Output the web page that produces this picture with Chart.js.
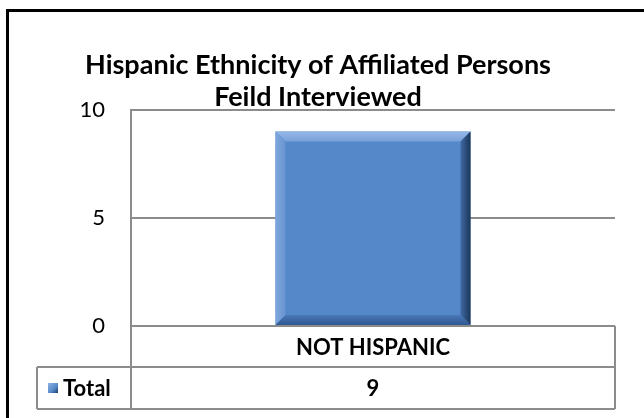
<!DOCTYPE html>
<html>
<head>
<meta charset="utf-8">
<script src="https://cdn.jsdelivr.net/npm/chart.js@4/dist/chart.umd.min.js"></script>
<style>
  html, body { margin: 0; padding: 0; background: #fff; }
  #wrap { width: 644px; height: 418px; }
  canvas { display: block; }
</style>
</head>
<body>
<div id="wrap"><canvas id="c" width="644" height="418" style="width:644px;height:418px"></canvas></div>
<script>
// Chart text and data
const titleLines = ['Hispanic Ethnicity of Affiliated Persons', 'Feild Interviewed'];
const categories = ['NOT HISPANIC'];
const seriesName = 'Total';
const totals = [9];
const yTicks = [0, 5, 10];

const FONT = 'Lato, "Open Sans", sans-serif';
const GRID = '#8c8c8c';
const FACE = '#5588c8';

// White page, black frame (open on right/bottom) and the two-line title
const frameAndTitle = {
  id: 'frameAndTitle',
  beforeDraw(chart) {
    const ctx = chart.ctx;
    ctx.save();
    ctx.fillStyle = '#fff';
    ctx.fillRect(0, 0, chart.width, chart.height);
    ctx.fillStyle = '#000';
    ctx.fillRect(6, 9, chart.width - 6, 3);
    ctx.fillRect(6, 9, 3, chart.height - 9);
    ctx.font = 'bold 27px ' + FONT;
    ctx.textAlign = 'center';
    ctx.textBaseline = 'alphabetic';
    ctx.fillText(titleLines[0], 318, 74);
    ctx.fillText(titleLines[1], 318, 106);
    ctx.restore();
  }
};

function poly(ctx, pts, fill) {
  ctx.beginPath();
  ctx.moveTo(pts[0][0], pts[0][1]);
  for (let i = 1; i < pts.length; i++) ctx.lineTo(pts[i][0], pts[i][1]);
  ctx.closePath();
  ctx.fillStyle = fill;
  ctx.fill();
}

// Bevelled edges on each bar, placed from the bar elements themselves
const bevel = {
  id: 'bevel',
  afterDatasetsDraw(chart) {
    const ctx = chart.ctx;
    const meta = chart.getDatasetMeta(0);
    ctx.save();
    meta.data.forEach(bar => {
      const p = bar.getProps(['x', 'y', 'base', 'width'], true);
      const L = p.x - p.width / 2, R = p.x + p.width / 2, T = p.y, B = p.base;
      const b = 10;
      let g = ctx.createLinearGradient(0, T, 0, T + b);
      g.addColorStop(0, '#95b8e8');
      g.addColorStop(1, '#77a0da');
      poly(ctx, [[L, T], [R, T], [R - b, T + b], [L + b, T + b]], g);
      g = ctx.createLinearGradient(L, 0, L + b, 0);
      g.addColorStop(0, '#7ea7de');
      g.addColorStop(1, '#6894d0');
      poly(ctx, [[L, T], [L + b, T + b], [L + b, B - b], [L, B]], g);
      g = ctx.createLinearGradient(R - b, 0, R, 0);
      g.addColorStop(0, '#3f6aa5');
      g.addColorStop(1, '#1b3558');
      poly(ctx, [[R, T], [R, B], [R - b, B - b], [R - b, T + b]], g);
      g = ctx.createLinearGradient(0, B - b, 0, B);
      g.addColorStop(0, '#4a78b6');
      g.addColorStop(1, '#2f5891');
      poly(ctx, [[L, B], [L + b, B - b], [R - b, B - b], [R, B]], g);
    });
    ctx.restore();
  }
};

// Data table under the plot: category row, then legend key + values row
const dataTable = {
  id: 'dataTable',
  afterDraw(chart) {
    const ctx = chart.ctx;
    const area = chart.chartArea;
    const xs = chart.scales.x;
    const row1Top = area.bottom, row1Bot = area.bottom + 41, row2Bot = row1Bot + 42;
    const keyLeft = 37;
    ctx.save();
    ctx.strokeStyle = GRID;
    ctx.lineWidth = 2;
    ctx.beginPath();
    ctx.moveTo(area.left, row1Top); ctx.lineTo(area.right, row1Top);
    ctx.moveTo(keyLeft, row1Bot); ctx.lineTo(area.right, row1Bot);
    ctx.moveTo(keyLeft, row2Bot); ctx.lineTo(area.right, row2Bot);
    ctx.moveTo(area.left, area.top); ctx.lineTo(area.left, row2Bot);
    ctx.moveTo(area.right, row1Top); ctx.lineTo(area.right, row2Bot);
    ctx.moveTo(keyLeft, row1Bot); ctx.lineTo(keyLeft, row2Bot);
    ctx.stroke();

    ctx.fillStyle = '#000';
    ctx.font = 'bold 22px ' + FONT;
    ctx.textAlign = 'center';
    ctx.textBaseline = 'middle';
    categories.forEach((c, i) => {
      const cx = xs.getPixelForValue(i);
      ctx.fillText(c, cx, (row1Top + row1Bot) / 2 + 1);
      ctx.fillText(String(totals[i]), cx, (row1Bot + row2Bot) / 2 + 1);
    });

    // legend key
    const kx = 48, ky = (row1Bot + row2Bot) / 2 - 5;
    const g = ctx.createLinearGradient(kx, ky, kx + 10, ky + 10);
    g.addColorStop(0, '#8fb3e4');
    g.addColorStop(0.6, FACE);
    g.addColorStop(1, '#1f3b62');
    ctx.fillStyle = g;
    ctx.fillRect(kx, ky, 10, 10);
    ctx.fillStyle = '#000';
    ctx.textAlign = 'left';
    ctx.fillText(seriesName, kx + 15, (row1Bot + row2Bot) / 2 + 1);
    ctx.restore();
  }
};

new Chart(document.getElementById('c'), {
  type: 'bar',
  data: {
    labels: categories,
    datasets: [{
      label: seriesName,
      data: totals,
      backgroundColor: FACE,
      borderWidth: 0,
      categoryPercentage: 1,
      barPercentage: 0.403
    }]
  },
  options: {
    responsive: false,
    devicePixelRatio: 1,
    animation: false,
    layout: { padding: { left: 0, top: 110, right: 29, bottom: 92 } },
    plugins: {
      legend: { display: false },
      title: { display: false },
      tooltip: { enabled: false }
    },
    scales: {
      x: { display: false },
      y: {
        min: 0,
        max: 10,
        afterBuildTicks: s => { s.ticks = yTicks.map(v => ({ value: v })); },
        afterFit: s => { s.width = 131; },
        ticks: {
          color: '#000',
          font: { family: FONT, size: 22 },
          padding: 26
        },
        grid: { color: GRID, lineWidth: 2, drawTicks: false },
        border: { display: true, color: GRID, width: 2 }
      }
    }
  },
  plugins: [frameAndTitle, bevel, dataTable]
});
</script>
</body>
</html>
